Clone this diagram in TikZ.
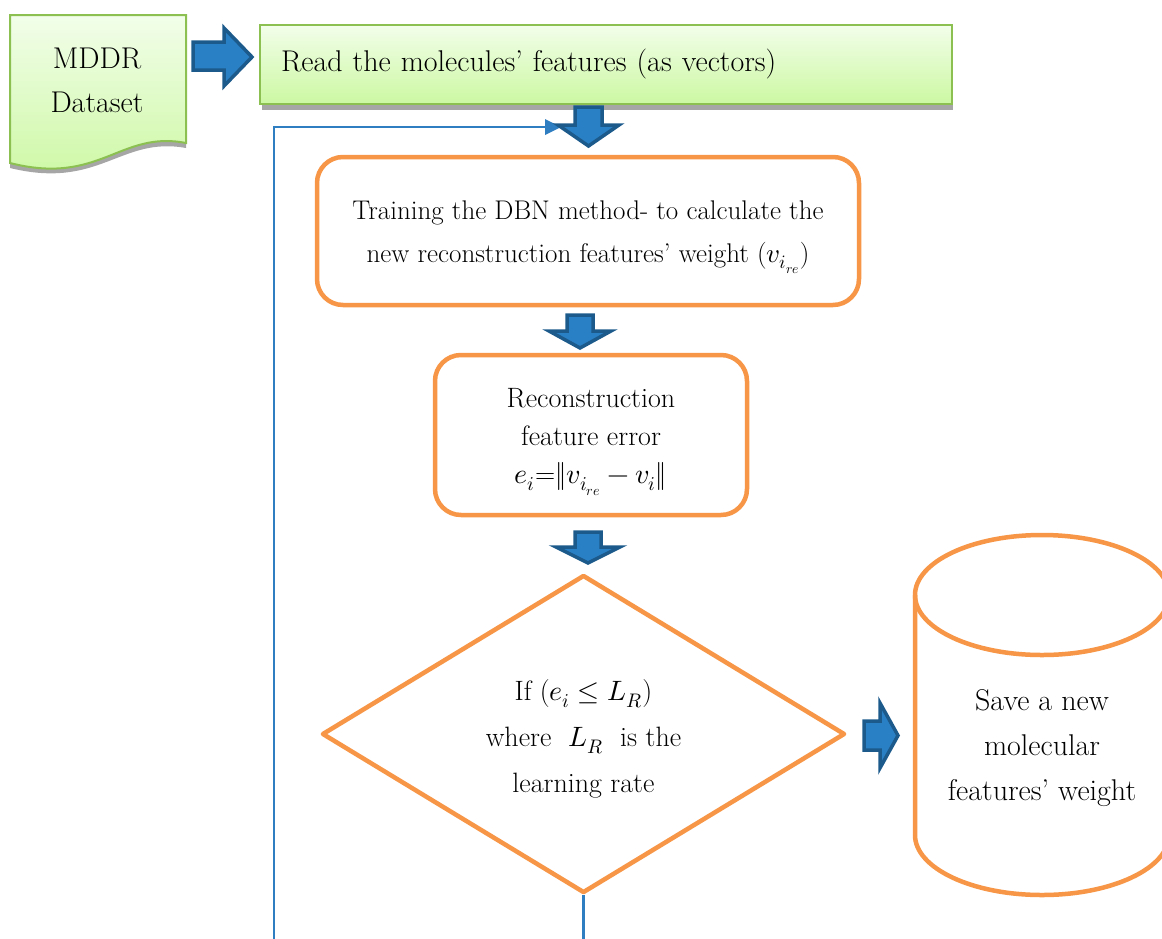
\documentclass[tikz,border=0pt]{standalone}
\usepackage{fontspec}
\usepackage{unicode-math}
\usetikzlibrary{shapes.geometric}

\definecolor{boxorange}{HTML}{F79646}
\definecolor{loopblue}{HTML}{2E7EC1}
\definecolor{arrowfill}{HTML}{2A80C4}
\definecolor{arrowedge}{HTML}{1C5A8C}
\definecolor{greenedge}{HTML}{8CC152}
\definecolor{greentop}{HTML}{F2FEEA}
\definecolor{greenbottom}{HTML}{CCF8A2}
\definecolor{shadowgray}{HTML}{A6A6A6}

\tikzset{
  blockarrow/.style={fill=arrowfill, draw=arrowedge, line width=3.5pt, line join=miter},
  greenshape/.style={draw=greenedge, line width=2pt, top color=greentop, bottom color=greenbottom},
  stepbox/.style={draw=boxorange, line width=4.5pt, rounded corners=26pt, fill=white,
    inner sep=0pt},
  steptext/.style={align=center, inner sep=0pt},
  loopline/.style={draw=loopblue, line width=2.2pt},
}

\begin{document}
\begin{tikzpicture}[x=1pt,y=-1pt]
\useasboundingbox (0,0) rectangle (1162,938);

% dataset document symbol with its shadow
\fill[shadowgray] (10,166) -- (10,160) .. controls (100,184) and (120,126) .. (186,139)
  -- (186,148) .. controls (120,136) and (100,190) .. (10,168) -- cycle;
\path[greenshape] (10,15) -- (186,15) -- (186,143)
  .. controls (120,130) and (100,186) .. (10,163) -- cycle;
\node[align=center, font=\fontsize{30}{44}\selectfont] (dataset) at (97,80) {MDDR\\Dataset};

% input reading step
\fill[shadowgray] (262,103) rectangle (953,110);
\node[greenshape, minimum width=692pt, minimum height=79pt, inner xsep=21pt,
  text width=650pt, align=left, font=\fontsize{30}{34}\selectfont]
  (read) at (606,64.5) {Read the molecules' features (as vectors)};

% processing steps
\node[stepbox, minimum width=542pt, minimum height=148pt] (train) at (588,231) {};
\node[steptext, font=\fontsize{27}{43}\selectfont] (traintext) at ([yshift=-6pt]train.center)
  {Training the DBN method- to calculate the\\new reconstruction features' weight ($v_{i_{re}}$)};

\node[stepbox, minimum width=312pt, minimum height=160pt] (recon) at (591,435) {};
\node[steptext, font=\fontsize{28}{38}\selectfont] (recontext) at ([yshift=-7pt]recon.center)
  {Reconstruction\\feature error\\$e_i$=$\lVert v_{i_{re}}-v_i\rVert$};

\node[diamond, draw=boxorange, line width=4.5pt, line join=round, fill=white,
  minimum width=523pt, minimum height=318pt, inner sep=0pt] (check) at (583.5,734) {};
\node[steptext, font=\fontsize{28}{46}\selectfont] (checktext) at ([yshift=-5pt]check.center)
  {If ($e_i\leq L_R$)\\where\ \ $L_R$\ \ is the\\learning rate};

% storage cylinder
\coordinate (store) at (1042,715);
\draw[boxorange, line width=4.5pt, fill=white]
  (915,595) -- (915,835) arc[start angle=180, end angle=360, x radius=127, y radius=-60]
  -- (1169,595);
\draw[boxorange, line width=4.5pt] (1042,595) ellipse[x radius=127, y radius=60];
\node[steptext, font=\fontsize{30}{45}\selectfont] (storetext) at (1042,748)
  {Save a new\\molecular\\features' weight};

% loop back connector and exit connector
\coordinate (loopstart) at (274,940);
\coordinate (loopcorner) at (274,127);
\coordinate (loopend) at (561,127);
\draw[loopline] (loopstart) -- (loopcorner) -- ([xshift=-14pt]loopend);
\fill[loopblue] (loopend) -- ++(-16,-8) -- ++(0,16) -- cycle;
\coordinate (exitend) at (583.5,940);
\draw[loopline] (check.south) -- (exitend);

% block arrows between the steps
\path[blockarrow] (193,42) -- (224,42) -- (224,28) -- (252,57) -- (224,86)
  -- (224,70) -- (193,70) -- cycle;
\path[blockarrow] (575,107) -- (602,107) -- (602,125) -- (619,125) -- (588.5,146)
  -- (558,125) -- (575,125) -- cycle;
\path[blockarrow] (567,315) -- (593,315) -- (593,331) -- (611,331) -- (580,348)
  -- (549,331) -- (567,331) -- cycle;
\path[blockarrow] (575,532) -- (601,532) -- (601,547) -- (620,547) -- (588,563)
  -- (556,547) -- (575,547) -- cycle;
\path[blockarrow] (864,721) -- (880,721) -- (880,703) -- (898,735.5) -- (880,768)
  -- (880,750) -- (864,750) -- cycle;
\end{tikzpicture}
\end{document}
